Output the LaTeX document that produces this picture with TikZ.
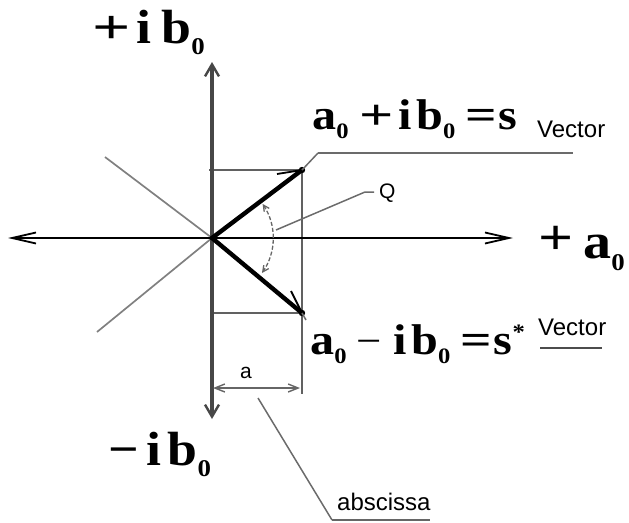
\documentclass[tikz,border=0pt]{standalone}
\usepackage{fontspec}
\usepackage{graphicx}
\setmainfont[FakeStretch=1.12]{Liberation Serif}
\setsansfont{Liberation Sans}
\usetikzlibrary{arrows.meta}
\newcommand{\zsub}[2][22]{\raisebox{-#2pt}{\fontsize{#1}{#1}\selectfont 0}}
\newcommand{\wop}[2][1.25]{\scalebox{#1}[1]{#2}}
\begin{document}
\begin{tikzpicture}[x=1pt,y=-1pt,
  vaxis/.style={line width=3.1pt,draw=black!72},
  haxis/.style={line width=2.6pt,draw=black},
  thinline/.style={line width=1.7pt,draw=black!50},
  frameline/.style={line width=2.2pt,draw=black!62},
  vec/.style={line width=4.4pt,draw=black,line cap=round},
  barb/.style={line width=1.8pt,draw=black},
  lead/.style={line width=1.5pt,draw=black!58},
  axtip/.style={-{Straight Barb[length=12pt,width=14pt,line width=2.4pt]}},
  htip/.style={-{Straight Barb[length=24pt,width=11pt,line width=1.8pt]}},
  form/.style={inner sep=0pt,anchor=base west,font=\bfseries},
  lbl/.style={inner sep=0pt,anchor=base west,font=\sffamily}
]
\useasboundingbox (0,0) rectangle (629,522);
% coordinates
\coordinate (O) at (212,238);
\coordinate (T) at (212,62);
\coordinate (B) at (212,419);
\coordinate (Lf) at (8,238);
\coordinate (R) at (513,238);
\coordinate (U) at (302,170);
\coordinate (L) at (302,313);
\coordinate (Ubarb) at (277,174);
\coordinate (Lbarb) at (291,291);
\coordinate (U0) at (209,170);
\coordinate (L0) at (214,313);
\coordinate (Vb) at (302,394);
\coordinate (D1) at (105,157);
\coordinate (D2) at (97,332);
\coordinate (A1) at (213,388);
\coordinate (A2) at (300,388);
\coordinate (Qa) at (276,230);
\coordinate (Qb) at (365,192);
\coordinate (Qc) at (374,192);
\coordinate (Ub) at (318,153);
\coordinate (Uc) at (573,153);
\coordinate (Lb) at (306,320);
\coordinate (X1) at (258,398);
\coordinate (X2) at (332,520);
\coordinate (X3) at (430,520);
\coordinate (W1) at (540,348);
\coordinate (W2) at (602,348);
% thin diagonals
\draw[thinline] (D1) -- (O) -- (D2);
% frame
\draw[frameline] (U0) -- (U) -- (Vb);
\draw[frameline] (L0) -- (L);
% axes
\draw[vaxis,axtip] (O) -- (T);
\draw[vaxis,axtip] (O) -- (B);
\draw[haxis,htip] (O) -- (Lf);
\draw[haxis,htip] (O) -- (R);
% vectors
\draw[vec] (O) -- (U);
\draw[vec] (O) -- (L);
\draw[barb] (Ubarb) -- (U);
\draw[barb] (Lbarb) -- (L);
\fill (U) circle (3.2pt);
\fill (L) circle (3.2pt);
% angle arc
\draw[line width=1.3pt,draw=black!60,dash pattern=on 4pt off 2pt,
  {Straight Barb[length=6pt,width=6pt]}-{Straight Barb[length=6pt,width=6pt]}]
  ([shift={(O)}]-34:61) arc[start angle=-34,end angle=35,radius=61];
% leaders
\draw[lead] (Qa) -- (Qb) -- (Qc);
\draw[lead] (U) -- (Ub);
\draw[lead] (Ub) -- (Uc);
\draw[lead] (L) -- (Lb);
\draw[lead] (X1) -- (X2);
\draw[line width=2.2pt,draw=black!60] (X2) -- (X3);
\draw[line width=1.8pt,draw=black!70] (W1) -- (W2);
% dimension a
\draw[line width=1.4pt,draw=black!60,
  {Straight Barb[length=10pt,width=8pt]}-{Straight Barb[length=10pt,width=8pt]}] (A1) -- (A2);
% texts
\node[form,font=\bfseries\fontsize{48}{48}\selectfont] (tl) at (92,43)
  {\wop{+}\hspace{6pt}i\hspace{10pt}b\zsub[24]{11}};
\node[form,font=\bfseries\fontsize{48}{48}\selectfont] (bl) at (108,465)
  {\textminus\hspace{8pt}i\hspace{6pt}b\zsub[24]{11}};
\node[form,font=\bfseries\fontsize{50}{50}\selectfont] (rl) at (538,258)
  {\raisebox{4pt}{\wop[1.1]{+}}\hspace{10pt}a\zsub[24]{12}};
\node[form,font=\bfseries\fontsize{43}{43}\selectfont] (f1) at (312,129)
  {a\zsub{9}\hspace{11pt}\wop{+}\hspace{5pt}i\hspace{4pt}b\zsub{9}\hspace{10pt}\wop[1.15]{=}\hspace{2pt}s};
\node[form,font=\bfseries\fontsize{43}{43}\selectfont] (f2) at (310,354)
  {a\zsub{9}\hspace{10pt}{\mdseries\fontsize{40}{40}\selectfont\textminus}\hspace{12pt}i\hspace{4pt}b\zsub{9}\hspace{10pt}\wop[1.15]{=}\hspace{2pt}s\raisebox{15pt}{\fontsize{22}{22}\selectfont *}};
\node[lbl,font=\sffamily\fontsize{24}{24}\selectfont] (v1) at (537,137) {Vector};
\node[lbl,font=\sffamily\fontsize{24}{24}\selectfont] (v2) at (538,335) {Vector};
\node[lbl,font=\sffamily\fontsize{24}{24}\selectfont] (ab) at (337,510) {abscissa};
\node[lbl,font=\sffamily\fontsize{21}{21}\selectfont] (q) at (379,198) {Q};
\node[lbl,font=\sffamily\fontsize{21}{21}\selectfont] (al) at (240,378) {a};
\end{tikzpicture}
\end{document}
